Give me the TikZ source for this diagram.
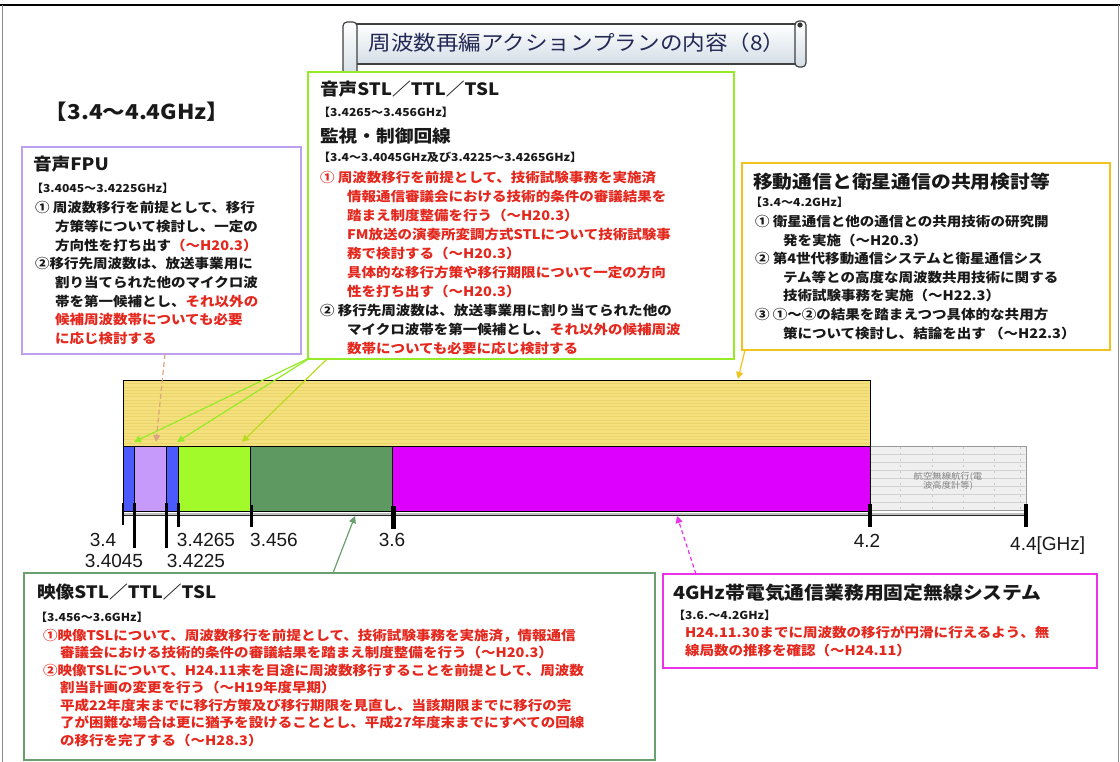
\documentclass[tikz,border=0pt]{standalone}
\usepackage{fontspec}
\setmainfont{Liberation Sans}
\newfontfamily\jp[FakeStretch=1.1]{Noto Sans CJK JP}
\usetikzlibrary{arrows.meta}
\newcommand\myfs[1]{\fontsize{#1}{#1}\selectfont}
\definecolor{txtred}{RGB}{228,40,30}
\definecolor{txtblk}{RGB}{25,25,25}
\definecolor{cpurp}{RGB}{190,160,240}
\definecolor{clime}{RGB}{150,235,40}
\definecolor{cgold}{RGB}{240,195,30}
\definecolor{cgreen}{RGB}{105,160,110}
\definecolor{cmag}{RGB}{235,50,235}
\definecolor{fyel}{RGB}{245,224,126}
\definecolor{syel}{RGB}{236,212,108}
\definecolor{fblue}{RGB}{74,90,255}
\definecolor{flav}{RGB}{197,154,250}
\definecolor{flime}{RGB}{163,250,42}
\definecolor{fgreen}{RGB}{94,153,98}
\definecolor{fmag}{RGB}{221,0,255}
\definecolor{fgray}{RGB}{239,239,239}
\definecolor{titlec}{RGB}{35,40,85}
\definecolor{tan}{RGB}{220,165,130}
\definecolor{olive}{RGB}{185,220,30}
\newcommand\rd[1]{\textcolor{txtred}{#1}}
\tikzset{
  ln/.style={anchor=base west, inner sep=0, outer sep=0, font=\jp\bfseries\myfs{13.2}, text=txtblk},
  rl/.style={ln, text=txtred},
  hd/.style={anchor=base west, inner sep=0, outer sep=0, font=\jp\bfseries\myfs{17}, text=txtblk},
  rg/.style={anchor=base west, inner sep=0, outer sep=0, font=\jp\bfseries\myfs{11}, text=txtblk},
  infobox/.style={draw=#1, line width=1.6pt, fill=white, anchor=north west, inner sep=0, outer sep=0},
  seg/.style={draw=black, line width=1pt, fill=#1, anchor=north west, inner sep=0, outer sep=0, minimum height=65},
  tk/.style={line width=3pt, black},
  tklab/.style={font=\myfs{19}, inner sep=0, text=txtblk},
  arr/.style={line width=1.2pt, -{Triangle[length=7pt,width=7pt]}},
  scroll/.style={draw=black!75, line width=1.2pt, top color=white, bottom color={rgb,255:red,212;green,222;blue,230}}
}
\begin{document}
\begin{tikzpicture}[x=1pt,y=-1pt]
\useasboundingbox (0,0) rectangle (1120,762);
\fill[white] (0,0) rectangle (1120,762);
% frame
\draw[line width=2.5pt, black] (0,5) -- (1120,5);
\draw[line width=0.8pt, black!45] (2,5) -- (2,762);
\draw[line width=0.8pt, black!45] (1118,5) -- (1118,762);

% title scroll
\node[scroll, minimum width=446, minimum height=40, inner sep=0] (title) at (578,44) {};
\draw[scroll, rounded corners=4pt] (343,22) rectangle (357,77);
\draw[scroll, rounded corners=4pt] (795,21) rectangle (806,67);
\fill[black!80] (800,25) circle (2.6);
\node[font=\jp\myfs{20.5}, text=titlec, inner sep=0] (titletext) at (577,43) {周波数再編アクションプランの内容（8）};

\node[font=\jp\bfseries\myfs{20.5}, text=txtblk, inner sep=0] (range) at (137,112) {【3.4～4.4GHz】};

% boxes
\node[infobox=cpurp, minimum width=279, minimum height=207] (fpu) at (22,147) {};
\node[infobox=clime, minimum width=426, minimum height=287] (stl) at (308,72) {};
\node[infobox=cgold, minimum width=368, minimum height=187] (sat) at (742,163) {};
\node[infobox=cgreen, minimum width=631, minimum height=187] (vid) at (24,573) {};
\node[infobox=cmag, minimum width=434, minimum height=94] (fw) at (663,574) {};

% band
\node[seg=fyel, minimum width=747, minimum height=66] (ybar) at (123,380) {};
\foreach \yy in {383.5,386.8,...,444} \draw[syel, line width=0.5pt] (124,\yy) -- (869,\yy);
\draw[line width=1pt] (123,380) rectangle (870,446);
\node[draw=black!40, line width=1pt, fill=fgray, anchor=north west, inner sep=0, minimum width=156, minimum height=64] (gray) at (870,446) {};
\foreach \yy in {454,462,...,502} \draw[black!18, line width=0.5pt] (871,\yy) -- (1025,\yy);
\foreach \xx in {900,932,963,994,1020} \draw[black!22, line width=0.5pt, dash pattern=on 2pt off 4pt] (\xx,447) -- (\xx,509);
\node[seg=fblue, minimum width=11] (s1) at (123,446) {};
\node[seg=flav, minimum width=32] (s2) at (134,446) {};
\node[seg=fblue, minimum width=12] (s3) at (166,446) {};
\node[seg=flime, minimum width=72] (s4) at (178,446) {};
\node[seg=fgreen, minimum width=142] (s5) at (250,446) {};
\node[seg=fmag, minimum width=478] (s6) at (392,446) {};
\node[font=\jp\myfs{8.5}, text=black!50, align=center, inner sep=0] (graytext) at (948,481) {航空無線航行(電\\[-1pt]波高度計等)};

% axis
\draw[line width=0.7pt, black!85, double=black!25, double distance=1.6pt] (123,514) -- (1026,514);
\draw[line width=2pt] (123,503) -- (123,525);
\draw[tk] (134,503) -- (134,548);
\draw[tk] (166,503) -- (166,548);
\draw[tk] (178,503) -- (178,527);
\draw[tk] (251,505) -- (251,527);
\draw[line width=5pt] (393,506) -- (393,529);
\draw[line width=4pt] (870,504) -- (870,527);
\draw[line width=4pt] (1026,504) -- (1026,527);
\node[tklab] (l1) at (103,540) {3.4};
\node[tklab] (l2) at (114,561) {3.4045};
\node[tklab] (l3) at (196,561) {3.4225};
\node[tklab] (l4) at (206,540) {3.4265};
\node[tklab] (l5) at (274,540) {3.456};
\node[tklab] (l6) at (392,540) {3.6};
\node[tklab] (l7) at (867,541) {4.2};
\node[tklab, anchor=west] (l8) at (1010,546) {4.4[GHz]};

% connectors
\coordinate (t1) at (134,442);
\coordinate (t2) at (177,442);
\coordinate (t3) at (242,442);
\coordinate (t4) at (156,442);
\coordinate (t5) at (738,379);
\coordinate (t6) at (355,516);
\coordinate (t7) at (677,516);
\draw[arr, clime] ([xshift=-1pt]stl.south west) -- (t1);
\draw[arr, clime] ([xshift=2pt,yshift=1pt]stl.south west) -- (t2);
\draw[arr, olive] ([xshift=19pt]stl.south west) -- (t3);
\draw[arr, tan, dash pattern=on 5pt off 3pt] ([xshift=3.5pt]fpu.south) -- (t4);
\draw[arr, cgold] ([xshift=3pt]sat.south west) -- (t5);
\draw[arr, cgreen] ([xshift=309pt]vid.north west) -- (t6);
\draw[arr, cmag, dash pattern=on 4pt off 3pt] ([xshift=33pt]fw.north west) -- (t7);

% FPU box text
\node[hd] (fpuh) at (33,171) {音声FPU};
\node[rg] (fpur) at (31,193) {【3.4045～3.4225GHz】};
\node[ln] (f1) at (35,213) {① 周波数移行を前提として、移行};
\node[ln] (f2) at (55,231.6) {方策等について検討し、一定の};
\node[ln] (f3) at (55,250.2) {方向性を打ち出す\rd{（～H20.3）}};
\node[ln] (f4) at (35,268.8) {②移行先周波数は、放送事業用に};
\node[ln] (f5) at (55,287.4) {割り当てられた他のマイクロ波};
\node[ln] (f6) at (55,306) {帯を第一候補とし、\rd{それ以外の}};
\node[rl] (f7) at (55,324.6) {候補周波数帯についても必要};
\node[rl] (f8) at (55,343.2) {に応じ検討する};

% STL box text
\node[hd] (stlh) at (320,96) {音声STL／TTL／TSL};
\node[rg] (stlr) at (318,117) {【3.4265～3.456GHz】};
\node[hd] (stlh2) at (320,143) {監視・制御回線};
\node[rg] (stlr2) at (318,162) {【3.4～3.4045GHz及び3.4225～3.4265GHz】};
\node[rl] (m1) at (320,183) {① 周波数移行を前提として、技術試験事務を実施済};
\node[rl] (m2) at (347,202) {情報通信審議会における技術的条件の審議結果を};
\node[rl] (m3) at (347,220.8) {踏まえ制度整備を行う（～H20.3）};
\node[rl] (m4) at (347,239.7) {FM放送の演奏所変調方式STLについて技術試験事};
\node[rl] (m5) at (347,258.6) {務で検討する（～H20.3）};
\node[rl] (m6) at (347,277.5) {具体的な移行方策や移行期限について一定の方向};
\node[rl] (m7) at (347,296.4) {性を打ち出す（～H20.3）};
\node[ln] (m8) at (320,315.3) {② 移行先周波数は、放送事業用に割り当てられた他の};
\node[ln] (m9) at (347,334.2) {マイクロ波帯を第一候補とし、\rd{それ以外の候補周波}};
\node[rl] (m10) at (347,353) {数帯についても必要に応じ検討する};

% satellite box text
\node[hd, font=\jp\bfseries\myfs{18}] (sath) at (753,189) {移動通信と衛星通信の共用検討等};
\node[rg] (satr) at (750,207) {【3.4～4.2GHz】};
\node[ln] (r1) at (755,227) {① 衛星通信と他の通信との共用技術の研究開};
\node[ln] (r2) at (783,245.5) {発を実施（～H20.3）};
\node[ln] (r3) at (755,264) {② 第4世代移動通信システムと衛星通信シス};
\node[ln] (r4) at (783,282.5) {テム等との高度な周波数共用技術に関する};
\node[ln] (r5) at (783,301) {技術試験事務を実施（～H22.3）};
\node[ln] (r6) at (755,319.5) {③ ①～②の結果を踏まえつつ具体的な共用方};
\node[ln] (r7) at (783,338) {策について検討し、結論を出す （～H22.3）};

% video box text
\node[hd] (vidh) at (37,598) {映像STL／TTL／TSL};
\node[rg] (vidr) at (35,621) {【3.456～3.6GHz】};
\node[rl] (b1) at (43,640) {①映像TSLについて、周波数移行を前提として、技術試験事務を実施済，情報通信};
\node[rl] (b2) at (60,657.5) {審議会における技術的条件の審議結果を踏まえ制度整備を行う（～H20.3）};
\node[rl] (b3) at (43,675) {②映像TSLについて、H24.11末を目途に周波数移行することを前提として、周波数};
\node[rl] (b4) at (60,692.5) {割当計画の変更を行う（～H19年度早期）};
\node[rl] (b5) at (60,710) {平成22年度末までに移行方策及び移行期限を見直し、当該期限までに移行の完};
\node[rl] (b6) at (60,727.5) {了が困難な場合は更に猶予を設けることとし、平成27年度末までにすべての回線};
\node[rl] (b7) at (60,745) {の移行を完了する（～H28.3）};

% fixed wireless box text
\node[hd, font=\jp\bfseries\myfs{18}] (fwh) at (673,599) {4GHz帯電気通信業務用固定無線システム};
\node[rg] (fwr) at (673,619) {【3.6.～4.2GHz】};
\node[rl] (w1) at (685,637) {H24.11.30までに周波数の移行が円滑に行えるよう、無};
\node[rl] (w2) at (685,655) {線局数の推移を確認（～H24.11）};
\end{tikzpicture}
\end{document}
